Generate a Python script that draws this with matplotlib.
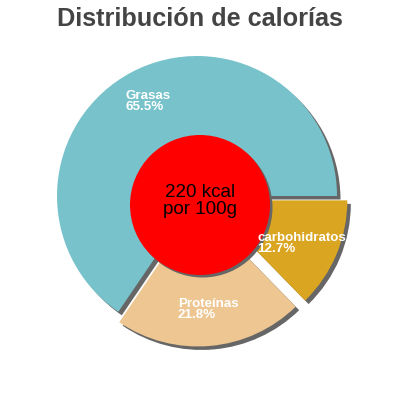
import matplotlib
matplotlib.use("Agg")
import matplotlib.pyplot as plt
from matplotlib.patches import Circle

categories = ["Grasas", "Proteínas", "carbohidratos"]
percents = [65.5, 21.8, 12.7]
colors = ["#78c3cb", "#eec692", "#daa520"]
explode_frac = [0.0, 0.075, 0.08]
center_text = "220 kcal\npor 100g"
title = "Distribución de calorías"

W = H = 400
fig = plt.figure(figsize=(4, 4), dpi=100)
ax = fig.add_axes([0, 0, 1, 1])

cx, cy, R = 197, H - 196, 140
sh = 3.5
explode = [e * R for e in explode_frac]

# shadow
ax.pie(percents, colors=["#666666"] * 3, explode=explode, startangle=0,
       counterclock=True, center=(cx + sh, cy - sh), radius=R,
       wedgeprops=dict(linewidth=0), frame=True)
# main
ax.pie(percents, colors=colors, explode=explode, startangle=0,
       counterclock=True, center=(cx, cy), radius=R,
       wedgeprops=dict(linewidth=0), frame=True)
ax.set_xlim(0, W)
ax.set_ylim(0, H)
ax.axis("off")

# center circle
ccx, ccy, cr = 200, H - 205, 70
ax.add_patch(Circle((ccx + 2.5, ccy - 2.5), cr, color="#666666", lw=0, zorder=5))
ax.add_patch(Circle((ccx, ccy), cr, color="#ff0000", lw=0, zorder=6))
ax.text(200, H - 201, center_text, ha="center", va="center", fontsize=13.5,
        family="Liberation Sans", color="black", linespacing=0.95, zorder=7)

label_pos = [(126, 90), (178, 298), (257, 232)]
for name, p, (lx, ly) in zip(categories, percents, label_pos):
    ax.text(lx, H - ly, f"{name}\n{p:.1f}%", ha="left", va="top", fontsize=9.6,
            family="Liberation Sans", color="white", fontweight="bold",
            linespacing=0.88, zorder=8)

fig.text(0.5, 1 - 19 / H, title, ha="center", va="center", fontsize=18.2,
         family="Liberation Sans", fontweight="bold", color="#444444")

fig.savefig("out.png", dpi=100)
